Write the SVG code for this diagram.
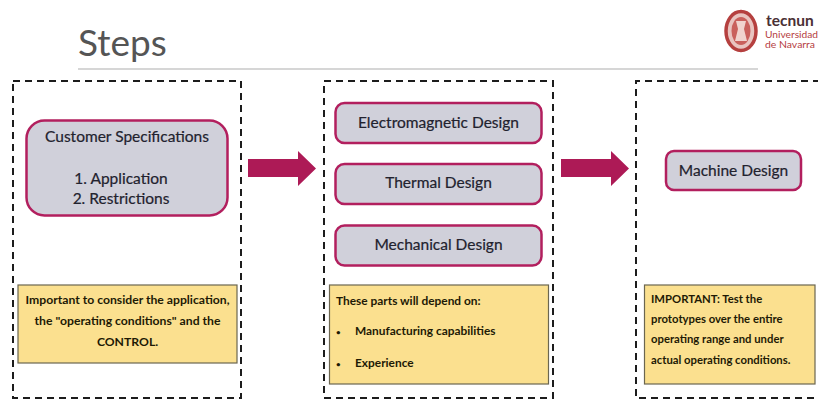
<svg xmlns="http://www.w3.org/2000/svg" width="818" height="407" viewBox="0 0 818 407">
<style>
text{font-family:Lato,"Open Sans","Liberation Sans",sans-serif;fill:#22222e}
.frame{fill:none;stroke:#1c1c1c;stroke-width:2;stroke-dasharray:7 5}
.node{fill:#d0d0da;stroke:#b21f5e;stroke-width:2.500}
.note{fill:#fbe08f;stroke:#6b6650;stroke-width:1.200}
.big{font-size:15.500px;text-anchor:middle;stroke:#22222e;stroke-width:.2}
.small{font-size:11.900px;fill:#1e1a05;font-weight:700}
.wide{font-size:12.200px}
.narrow{font-size:11.300px}
.dot{fill:#1e1a05}
.mid{text-anchor:middle}
.arrow{fill:#ad1a56}
</style>
<rect width="818" height="407" fill="#fff"/>
<text x="78" y="56" style="font-size:37px;fill:#555">Steps</text>
<line x1="78" y1="69" x2="758" y2="69" stroke="#c8c8c8" stroke-width="1.500"/>
<g id="logo">
<ellipse cx="741" cy="31" rx="15" ry="19.500" fill="#e9c4c0" stroke="#b5403f" stroke-width="3.500"/>
<ellipse cx="741" cy="31" rx="9.500" ry="14" fill="#c9605c"/>
<path d="M736 21h10l-2 8 3 12h-12l3-12z" fill="#f0d3ce"/>
<text x="766" y="26" style="font-size:15.500px;fill:#4a3035;font-weight:700">tecnun</text>
<text x="765" y="37.500" textLength="53" lengthAdjust="spacingAndGlyphs" style="font-size:9px;fill:#b5403f">Universidad</text>
<text x="765" y="47.500" textLength="50" lengthAdjust="spacingAndGlyphs" style="font-size:9px;fill:#b5403f">de Navarra</text>
</g>
<g id="frames">
<rect class="frame" x="13" y="81" width="228" height="317"/>
<rect class="frame" x="324" y="81" width="229" height="317"/>
<path class="frame" d="M820 81H636V398H820"/>
</g>
<g id="connectors">
<path class="arrow" d="M248 159H298V151L316 168.500 298 186V177H248Z"/>
<path class="arrow" d="M561 159H611V151L629 168.500 611 186V177H561Z"/>
</g>
<g id="customer">
<rect class="node" x="26.500" y="120.500" width="201" height="95" rx="18"/>
<text class="big" x="127" y="142">Customer Specifications</text>
<text class="big" x="121" y="184">1. Application</text>
<text class="big" x="121" y="204">2. Restrictions</text>
</g>
<g id="note1">
<rect class="note" x="18" y="285" width="219" height="78"/>
<text class="small wide mid" x="127.500" y="304">Important to consider the application,</text>
<text class="small wide mid" x="127.500" y="325">the "operating conditions" and the</text>
<text class="small wide mid" x="127.500" y="346">CONTROL.</text>
</g>
<g id="em">
<rect class="node" x="335.500" y="103" width="206" height="40" rx="9"/>
<text class="big" x="438.500" y="128">Electromagnetic Design</text>
</g>
<g id="thermal">
<rect class="node" x="335.500" y="164" width="206" height="40" rx="9"/>
<text class="big" x="438.500" y="188">Thermal Design</text>
</g>
<g id="mechanical">
<rect class="node" x="335.500" y="225.500" width="206" height="40" rx="9"/>
<text class="big" x="438.500" y="250">Mechanical Design</text>
</g>
<g id="note2">
<rect class="note" x="329.500" y="285" width="219" height="99"/>
<text class="small" x="336" y="305">These parts will depend on:</text>
<text class="small" x="336" y="335" style="font-size:8px">•</text>
<text class="small" x="355" y="335">Manufacturing capabilities</text>
<text class="small" x="336" y="367" style="font-size:8px">•</text>
<text class="small" x="355" y="367">Experience</text>
</g>
<g id="machine">
<rect class="node" x="666" y="151" width="135" height="39" rx="8"/>
<text class="big" x="733.500" y="176">Machine Design</text>
</g>
<g id="note3">
<rect class="note" x="644.500" y="285" width="170.500" height="99"/>
<text class="small narrow" x="651" y="303">IMPORTANT: Test the</text>
<text class="small narrow" x="651" y="323">prototypes over the entire</text>
<text class="small narrow" x="651" y="343">operating range and under</text>
<text class="small narrow" x="651" y="364">actual operating conditions.</text>
</g>
</svg>
